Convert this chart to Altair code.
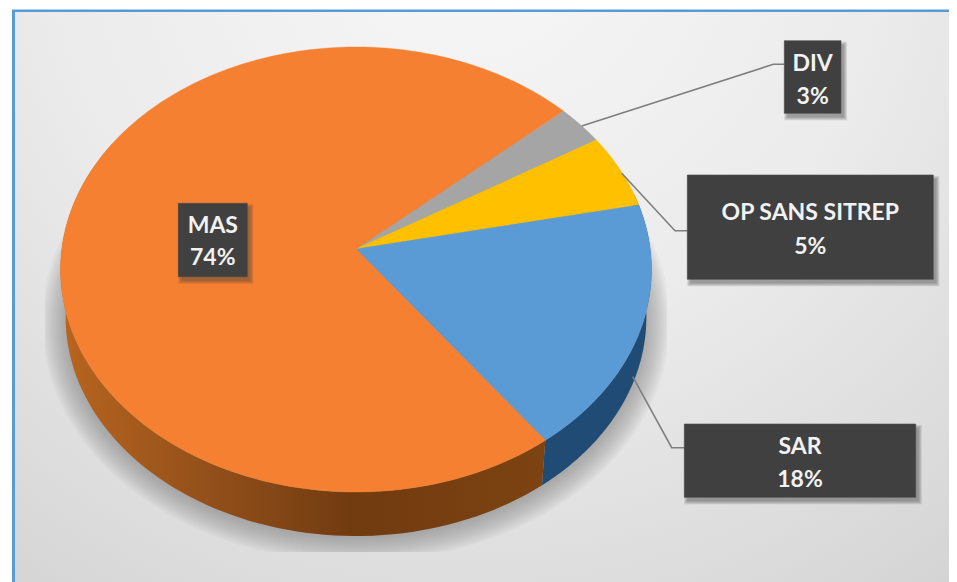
import math
import numpy as np
import altair as alt

# ---- data ----
categories = ["DIV", "OP SANS SITREP", "SAR", "MAS"]
shares = [2.9, 5.4, 18.1, 73.6]          # slice sizes as drawn
percent_labels = ["3%", "5%", "18%", "74%"]
slice_colors = ["#a5a5a5", "#ffc000", "#5b9bd5", "#f58031"]

# ---- layout (page pixels) ----
OFF = 8
W, H = 941, 574
START = 48.4
APEX = (356, 249)
TOP_UP, TOP_DOWN = 202.0, 243.0
RX = 295.5
BOXES = {
    "DIV": (784.3, 40.7, 841, 113.3, 64, 97),
    "OP SANS SITREP": (687.3, 175, 933.3, 279.3, 213, 247),
    "SAR": (684.3, 424, 915.7, 497.3, 447, 480),
    "MAS": (178.3, 203.3, 247.3, 276.7, 226, 258),
}
LEADERS = {
    "DIV": [(581.7, 126), (773.3, 64.3), (784.3, 64.3)],
    "OP SANS SITREP": [(621.7, 173.3), (675, 230.7), (687.3, 230.7)],
    "SAR": [(632.7, 376.7), (671.7, 447.7), (684.3, 447.7)],
}

# perspective view of the unit disc: circle -> ellipse, centre -> APEX
ratio = TOP_DOWN / TOP_UP
P = (ratio - 1) / (ratio + 1)
B = TOP_UP * (1 + P)
A = RX * math.sqrt(1 - P * P)
EC_Y = APEX[1] + (TOP_DOWN - TOP_UP) / 2


def top_pt(deg):
    t = math.radians(deg)
    u, v = math.sin(t), math.cos(t)
    d = 1 + P * v
    return (APEX[0] + A * u / d, APEX[1] - B * v / d)


LOW_K = 0.9826
LOW_DY = 47.9


def low_pt(deg):
    x, y = top_pt(deg)
    return (APEX[0] + (x - APEX[0]) * LOW_K, EC_Y + (y - EC_Y) * LOW_K + LOW_DY)


def arc(fn, a, b, n=90):
    return [fn(d) for d in np.linspace(a, b, n)]


def to_chart(pts):
    return [[float(x - OFF), float(y - OFF)] for x, y in pts]


def poly(pts):
    p = to_chart(pts)
    p.append(p[0])
    return {"type": "Feature", "geometry": {"type": "Polygon", "coordinates": [p]}, "properties": {}}


def line(pts):
    return {"type": "Feature", "geometry": {"type": "LineString", "coordinates": to_chart(pts)}, "properties": {}}


def rect(x0, y0, x1, y1):
    return poly([(x0, y0), (x1, y0), (x1, y1), (x0, y1)])


def shape(features, **mark):
    return alt.Chart(alt.Data(values=features)).mark_geoshape(**mark).project(
        type="identity", scale=1, translate=[0, 0]
    )


layers = []

# panel
layers.append(shape([rect(12, 9.5, 957, 582)], fill="#5b9bd5", stroke=None))
bg = {
    "gradient": "radial", "x1": 0.48, "y1": 0.1, "r1": 0.05, "x2": 0.48, "y2": 0.1, "r2": 0.95,
    "stops": [
        {"offset": 0, "color": "#f6f6f6"},
        {"offset": 0.45, "color": "#ebebeb"},
        {"offset": 0.8, "color": "#dadada"},
        {"offset": 1, "color": "#cfcfcf"},
    ],
}
layers.append(shape([rect(15, 12, 957, 582)], fill=bg, stroke=None))

# soft shadow of the pie, cut off by its rectangle
shadow = []
for grow in np.arange(-10, 18, 2.0):
    pts = []
    for d in np.linspace(0, 360, 180):
        t = math.radians(d)
        x = 356 + (298 + grow) * math.sin(t)
        y = 322 + (224 + grow) * math.cos(t)
        pts.append((min(max(x, 45), 667), min(y, 552)))
    shadow.append(poly(pts))
layers.append(shape(shadow, fill="#707070", fillOpacity=0.05, stroke=None))

# slice angles, clockwise from START
edges = {}
a = START
for name, s in zip(categories, shares):
    edges[name] = (a, a + s * 3.6)
    a += s * 3.6

# side walls
sar = edges["SAR"]
mas = edges["MAS"]
wall_sar = arc(top_pt, sar[0] - 3, sar[1]) + arc(low_pt, sar[1], sar[0] - 3)
wall_mas = arc(top_pt, mas[0], 300) + arc(low_pt, 300, mas[0])
layers.append(shape([poly(wall_sar)], fill="#1f4b74", stroke=None))
wall_fill = {
    "gradient": "linear", "x1": 0, "y1": 0, "x2": 1, "y2": 0,
    "stops": [
        {"offset": 0, "color": "#b8651f"},
        {"offset": 0.3, "color": "#93501a"},
        {"offset": 0.6, "color": "#713b10"},
        {"offset": 1, "color": "#7d4311"},
    ],
}
layers.append(shape([poly(wall_mas)], fill=wall_fill, stroke=None))

# top faces
for name, col in zip(categories, slice_colors):
    a0, a1 = edges[name]
    layers.append(shape([poly([APEX] + arc(top_pt, a0, a1, 160))], fill=col, stroke=col, strokeWidth=0.4))

# leader lines
for name, pts in LEADERS.items():
    layers.append(shape([line(pts)], fill=None, filled=False, stroke="#7f7f7f", strokeWidth=1.6))

# label boxes with soft shadows
texts = []
for name, pct in zip(categories, percent_labels):
    x0, y0, x1, y1, ty0, ty1 = BOXES[name]
    halo = [rect(x0 + 3 - g, y0 + 4 - g, x1 + 3 + g, y1 + 4 + g) for g in (3, 2, 1, 0)]
    layers.append(shape(halo, fill="#404040", fillOpacity=0.14, stroke=None))
    layers.append(shape([rect(x0, y0, x1, y1)], fill="#404040", stroke="#4a4a4a", strokeWidth=0.6))
    cx = (x0 + x1) / 2 - OFF
    texts.append({"t": name, "lon": cx, "lat": ty0 - OFF})
    texts.append({"t": pct, "lon": cx, "lat": ty1 - OFF})

layers.append(
    alt.Chart(alt.Data(values=texts))
    .mark_text(font="Lato", fontWeight="bold", fontSize=23, color="#f2f2f2", align="center", baseline="middle")
    .encode(longitude="lon:Q", latitude="lat:Q", text="t:N")
    .project(type="identity", scale=1, translate=[0, 0])
)

chart = (
    alt.layer(*layers)
    .properties(width=W, height=H, padding=0, autosize=alt.AutoSizeParams(type="none"), background="#ffffff")
    .configure_view(stroke=None)
)
chart.save("out.html", embed_options={"renderer": "svg", "actions": False})
